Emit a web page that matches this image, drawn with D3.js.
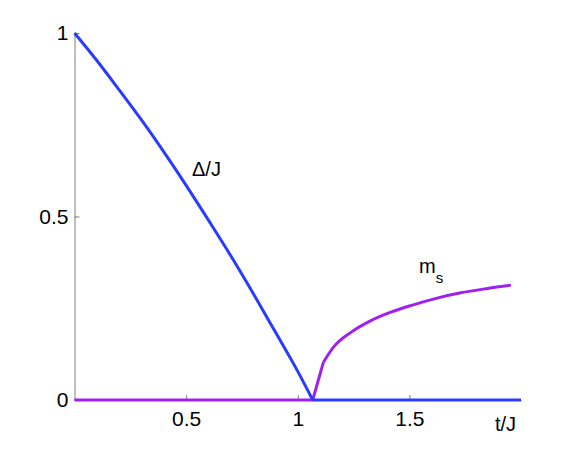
<!DOCTYPE html>
<html><head><meta charset="utf-8">
<script src="https://cdn.jsdelivr.net/npm/d3@7"></script>
<style>body{margin:0;background:#fff}svg{display:block}text{font-family:"Liberation Sans",Arial,sans-serif}</style>
</head><body><svg id="c" width="577" height="452"></svg>
<script>
const gapT = [0, 0.1, 0.2, 0.3, 0.4, 0.5, 0.6, 0.7, 0.8, 0.9, 1.0, 1.067, 1.5, 2.0];
const gapV = [1, 0.925, 0.845, 0.763, 0.676, 0.585, 0.49, 0.393, 0.291, 0.185, 0.078, 0, 0, 0];
const msT = [0, 0.5, 1.067, 1.115, 1.16, 1.24, 1.33, 1.42, 1.51, 1.62, 1.73, 1.85, 1.955];
const msV = [0, 0, 0, 0.103, 0.144, 0.185, 0.217, 0.24, 0.258, 0.277, 0.292, 0.304, 0.313];
const xTicks = [0.5, 1, 1.5];
const yTicks = [0, 0.5, 1];
const tc = 1.067; // transition point

const svg = d3.select("#c");
const x = d3.scaleLinear().domain([0, 2]).range([74.5, 521]);
const y = d3.scaleLinear().domain([0, 1]).range([400, 33]);
const axisColor = "#7f7f7f";
const FS = 21;

// y axis
const ya = svg.append("g").attr("transform", `translate(${x(0)},0)`)
  .call(d3.axisLeft(y).tickValues(yTicks).tickSizeInner(-5).tickSizeOuter(0).tickPadding(6).tickFormat(d3.format("")));
ya.select(".domain").attr("stroke", axisColor);
ya.selectAll(".tick line").attr("stroke", axisColor);
ya.selectAll("text").attr("font-size", FS).attr("fill", "#000").attr("font-family", "Liberation Sans, Arial, sans-serif");

// x axis
const xa = svg.append("g").attr("transform", `translate(0,${y(0)})`)
  .call(d3.axisBottom(x).tickValues(xTicks).tickSizeInner(-5).tickSizeOuter(0).tickPadding(11).tickFormat(d3.format("")));
xa.select(".domain").attr("stroke", axisColor);
xa.selectAll(".tick line").attr("stroke", axisColor);
xa.selectAll("text").attr("font-size", FS).attr("fill", "#000").attr("font-family", "Liberation Sans, Arial, sans-serif");

const smooth = d3.line().x(d => x(d[0])).y(d => y(d[1])).curve(d3.curveMonotoneX);
const straight = d3.line().x(d => x(d[0])).y(d => y(d[1]));

const gap = gapT.map((t, i) => [t, gapV[i]]);
const ms = msT.map((t, i) => [t, msV[i]]);

function draw(data, gen, color) {
  svg.append("path").datum(data).attr("d", gen).attr("fill", "none")
    .attr("stroke", color).attr("stroke-width", 3).attr("stroke-linejoin", "round");
}
const purple = "#a020f0", blue = "#2a3aff";
// m_s: zero part and first rise are straight, the rest smooth
draw(ms.filter(d => d[0] <= 1.115), straight, purple);
draw(ms.filter(d => d[0] >= 1.115), smooth, purple);
// gap: smooth decrease down to tc, then zero
draw(gap.filter(d => d[0] <= tc), smooth, blue);
draw(gap.filter(d => d[0] >= tc), straight, blue);

svg.append("text").attr("x", 192).attr("y", 176).attr("font-size", 20).text("Δ/J");
const mt = svg.append("text").attr("x", 419).attr("y", 273).attr("font-size", 20);
mt.append("tspan").text("m");
mt.append("tspan").attr("font-size", 15).attr("dy", 10).text("s");
svg.append("text").attr("x", 495).attr("y", 431).attr("font-size", 20).text("t/J");
</script></body></html>
